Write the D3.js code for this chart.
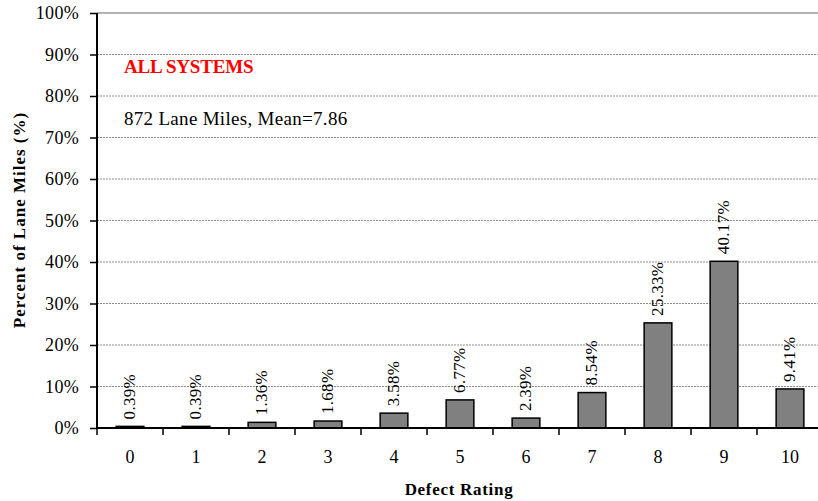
<!DOCTYPE html>
<html><head><meta charset="utf-8">
<script src="https://cdn.jsdelivr.net/npm/d3@7"></script>
<style>body{margin:0;background:#fff}svg{display:block;font-family:"Liberation Serif","Times New Roman",serif}</style>
</head><body><svg id="c" width="818" height="501"></svg>
<script>
const categories = ["0","1","2","3","4","5","6","7","8","9","10"];
const values = [0.39,0.39,1.36,1.68,3.58,6.77,2.39,8.54,25.33,40.17,9.41];
const yTicks = [0,10,20,30,40,50,60,70,80,90,100];
const title = "ALL SYSTEMS";
const subtitle = "872 Lane Miles, Mean=7.86";
const xTitle = "Defect Rating";
const yTitle = "Percent of Lane Miles (%)";

(function(){
const FONT = "Liberation Serif, Times New Roman, serif";
const svg = d3.select("#c");
const pLeft = 97, pTop = 13, pBottom = 428, bandW = 66;
const x = d3.scaleBand().domain(categories).range([pLeft, pLeft + bandW*categories.length]).paddingInner(0.58).paddingOuter(0.29);
const y = d3.scaleLinear().domain([0,100]).range([pBottom, pTop]);

// gridlines
svg.append("g").selectAll("line").data(yTicks.filter(d=>d>0)).join("line")
  .attr("x1", pLeft).attr("x2", 830).attr("y1", d=>y(d)).attr("y2", d=>y(d))
  .attr("stroke", d=>d===100?"#666":"#8c8c8c").attr("stroke-width", 1).attr("stroke-dasharray", d=>d===100?null:"2,1");

// bars
svg.append("g").selectAll("rect").data(values).join("rect")
  .attr("x", (d,i)=>x(categories[i])).attr("width", x.bandwidth())
  .attr("y", d=>y(d)).attr("height", d=>pBottom - y(d))
  .attr("fill", "#808080").attr("stroke", "#000").attr("stroke-width", 1.5);

// bar labels
svg.append("g").selectAll("text").data(values).join("text")
  .attr("transform", (d,i)=>`translate(${x(categories[i]) + x.bandwidth()/2 + 5},${y(d) - 7}) rotate(-90)`)
  .attr("font-size", 17).attr("font-family", FONT).attr("letter-spacing", "0.3").attr("fill", "#000")
  .text(d=>d.toFixed(2) + "%");

// y axis
const yAxis = d3.axisLeft(y).tickValues(yTicks).tickFormat(d=>d+"%").tickSize(7).tickPadding(11);
const gy = svg.append("g").attr("transform", `translate(${pLeft},0)`).call(yAxis);
gy.select(".domain").attr("stroke","#000").attr("stroke-width",2).attr("d", `M0,${pTop}V${pBottom}`);
gy.selectAll(".tick line").attr("stroke","#000").attr("stroke-width",1.5);
gy.selectAll(".tick text").attr("font-size",18).attr("font-family",FONT).attr("letter-spacing","0.3").attr("fill","#000");

// x axis
const xAxis = d3.axisBottom(x).tickSize(0).tickPadding(22);
const gx = svg.append("g").attr("transform", `translate(0,${pBottom})`).call(xAxis);
gx.select(".domain").attr("stroke","#000").attr("stroke-width",2).attr("d", `M${pLeft},0H830`);
gx.selectAll(".tick text").attr("font-size",18).attr("font-family",FONT).attr("fill","#000");
gx.append("g").selectAll("line").data(d3.range(categories.length+1)).join("line")
  .attr("x1", i=>pLeft + i*bandW).attr("x2", i=>pLeft + i*bandW).attr("y1",0).attr("y2",7)
  .attr("stroke","#000").attr("stroke-width",1.5);

// annotations
svg.append("text").attr("x",124).attr("y",73).attr("font-size",19).attr("font-weight","bold").attr("font-family",FONT)
  .attr("fill","#ff0000").attr("letter-spacing","-0.2").text(title);
svg.append("text").attr("x",124).attr("y",125).attr("font-size",19).attr("font-family",FONT)
  .attr("letter-spacing","0.3").attr("fill","#000").text(subtitle);

// axis titles
svg.append("text").attr("x",459).attr("y",495).attr("text-anchor","middle").attr("font-size",17).attr("font-family",FONT)
  .attr("font-weight","bold").attr("letter-spacing","0.7").text(xTitle);
svg.append("text").attr("transform","translate(25,220) rotate(-90)").attr("text-anchor","middle").attr("font-family",FONT)
  .attr("font-size",17).attr("font-weight","bold").attr("letter-spacing","1").text(yTitle);
})();
</script></body></html>
